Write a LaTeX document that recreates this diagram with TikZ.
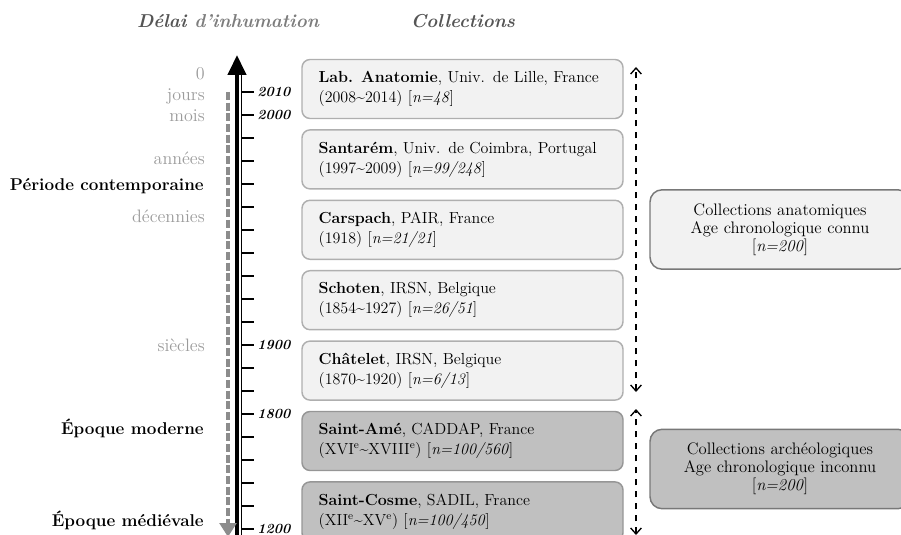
\documentclass[tikz,border=0pt]{standalone}
\usetikzlibrary{arrows.meta}
\definecolor{lightfill}{RGB}{242,242,242}
\definecolor{darkfill}{RGB}{192,192,192}
\definecolor{lightedge}{RGB}{175,175,175}
\definecolor{darkedge}{RGB}{150,150,150}
\definecolor{sideedge}{RGB}{120,120,120}
\definecolor{labelgray}{RGB}{155,155,155}
\definecolor{titlegray}{RGB}{85,85,85}
\definecolor{subgray}{RGB}{125,125,125}
\definecolor{delaigray}{RGB}{140,140,140}
\begin{document}
\begin{tikzpicture}[x=0.75pt,y=-0.75pt,
    colbox/.style={draw=lightedge,fill=lightfill,line width=1.1pt,rounded corners=6pt,
      minimum height=44.25pt,text width=215.75pt,inner xsep=12.5pt,align=left,
      font=\fontsize{12}{15}\selectfont},
    darkbox/.style={colbox,draw=darkedge,fill=darkfill},
    sidebox/.style={draw=sideedge,line width=1.1pt,rounded corners=9pt,
      minimum height=59.5pt,text width=180pt,inner xsep=7.5pt,align=center,
      font=\fontsize{12.5}{13.5}\selectfont},
    graylabel/.style={anchor=base east,inner sep=0pt,text=labelgray,font=\fontsize{13.5}{15}\selectfont},
    periodlabel/.style={anchor=base east,inner sep=0pt,font=\fontsize{12.8}{15}\selectfont\bfseries},
    yearlabel/.style={anchor=west,inner sep=0pt,font=\fontsize{10.5}{12}\selectfont\bfseries\itshape},
    title/.style={anchor=base,inner sep=0pt,font=\fontsize{14}{15}\selectfont\bfseries\itshape},
    tickmark/.style={line width=2pt},
    spanarrow/.style={line width=1pt,dash pattern=on 5pt off 4pt,
      {Straight Barb[length=4.5pt,width=8pt]}-{Straight Barb[length=4.5pt,width=8pt]}}]
  \useasboundingbox (0,0) rectangle (901,535);

  % titles
  \node[title] (titledelai) at (228,27.5) {\textcolor{titlegray}{Délai} \textcolor{subgray}{d’inhumation}};
  \node[title,text=titlegray] (titlecoll) at (463,27.5) {Collections};

  % time axis
  \coordinate (axtop) at (237,55);
  \coordinate (axbot) at (237,535);
  \coordinate (railtop) at (241.5,75);
  \coordinate (railbot) at (241.5,535);
  \draw[line width=3.2pt,-{Triangle[length=15pt,width=13.5pt]}] (axbot) -- (axtop);
  \draw[line width=1.2pt] (railtop) -- (railbot);
  \foreach \i in {0,...,19}
    \draw[tickmark] (241,92+23*\i) -- ++(13,0);
  \foreach \i/\yr in {0/2010,1/2000,11/1900,14/1800,19/1200}
    \node[yearlabel] (y\yr) at (257,92+23*\i) {\yr};

  % burial delay
  \coordinate (delaitop) at (228,92);
  \coordinate (delaibot) at (228,537);
  \draw[delaigray,line width=2.6pt,dash pattern=on 6pt off 2pt,
    -{Triangle[length=10.5pt,width=12.5pt]}] (delaitop) -- (delaibot);
  \node[graylabel] (zero) at (205,79.5) {0};
  \node[graylabel] (jours) at (205,100.7) {jours};
  \node[graylabel] (mois) at (205,121.7) {mois};
  \node[graylabel] (annees) at (205,165) {années};
  \node[graylabel] (decennies) at (205,223) {décennies};
  \node[graylabel] (siecles) at (205,351.7) {siècles};

  % periods
  \node[periodlabel] (contemp) at (204,190.7) {Période contemporaine};
  \node[periodlabel] (moderne) at (204,434) {Époque moderne};
  \node[periodlabel] (medieval) at (204,526) {Époque médiévale};

  % collections
  \node[colbox] (lille) at (462.5,89) {\textbf{Lab. Anatomie}, Univ. de Lille, France\\(2008\textasciitilde 2014) [\textit{n=48}]};
  \node[colbox] (santarem) at (462.5,159.4) {\textbf{Santarém}, Univ. de Coimbra, Portugal\\(1997\textasciitilde 2009) [\textit{n=99/248}]};
  \node[colbox] (carspach) at (462.5,229.8) {\textbf{Carspach}, PAIR, France\\(1918) [\textit{n=21/21}]};
  \node[colbox] (schoten) at (462.5,300.2) {\textbf{Schoten}, IRSN, Belgique\\(1854\textasciitilde 1927) [\textit{n=26/51}]};
  \node[colbox] (chatelet) at (462.5,370.6) {\textbf{Châtelet}, IRSN, Belgique\\(1870\textasciitilde 1920) [\textit{n=6/13}]};
  \node[darkbox] (saintame) at (462.5,441) {\textbf{Saint-Amé}, CADDAP, France\\(XVI\textsuperscript{e}\textasciitilde XVIII\textsuperscript{e}) [\textit{n=100/560}]};
  \node[darkbox] (saintcosme) at (462.5,511.4) {\textbf{Saint-Cosme}, SADIL, France\\(XII\textsuperscript{e}\textasciitilde XV\textsuperscript{e}) [\textit{n=100/450}]};

  % groups
  \coordinate (anatop) at (636,67);
  \coordinate (anabot) at (636,392);
  \coordinate (archtop) at (636,409);
  \coordinate (archbot) at (636,535);
  \draw[spanarrow] (anabot) -- (anatop);
  \draw[spanarrow] (archbot) -- (archtop);
  \node[sidebox,fill=lightfill] (anat) at (780,229.5) {Collections anatomiques\\Age chronologique connu\\{}[\textit{n=200}]};
  \node[sidebox,fill=darkfill] (arch) at (780,469) {Collections archéologiques\\Age chronologique inconnu\\{}[\textit{n=200}]};
\end{tikzpicture}
\end{document}
